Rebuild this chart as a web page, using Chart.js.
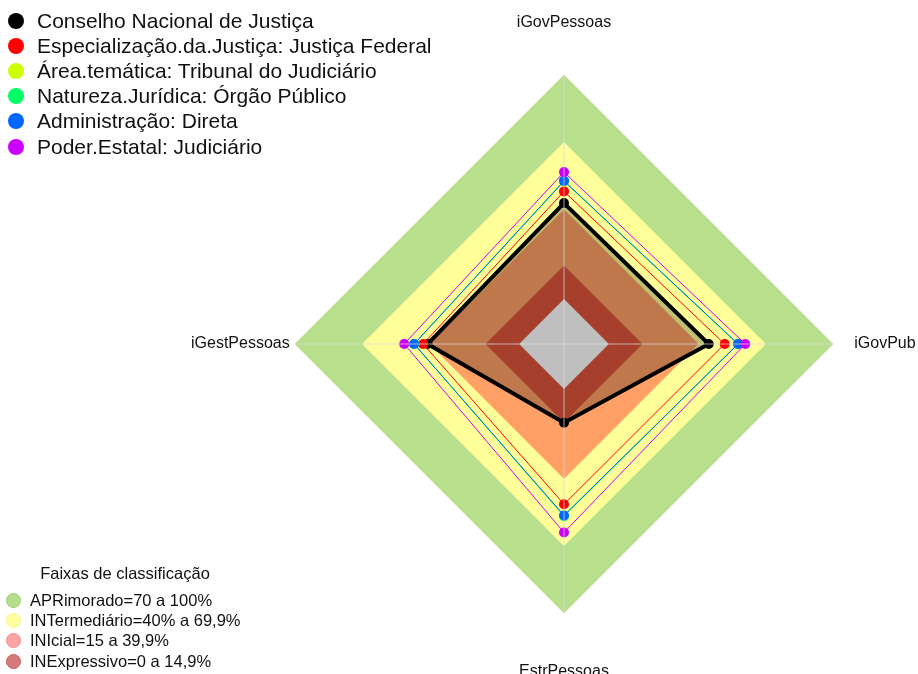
<!DOCTYPE html>
<html>
<head>
<meta charset="utf-8">
<script src="https://cdn.jsdelivr.net/npm/chart.js@4.4.1/dist/chart.umd.min.js"></script>
<style>
  html, body { margin: 0; padding: 0; overflow: hidden; background: #fff; }
  #wrap { position: relative; width: 940px; height: 700px; }
  .leg1 { position: absolute; left: 8px; top: 8px; font: 21px 'Liberation Sans', Arial, sans-serif; color: #111; }
  .leg1 .row { height: 25.2px; display: flex; align-items: center; white-space: nowrap; }
  .leg1 .dot { width: 16px; height: 16px; border-radius: 50%; margin-right: 13px; flex: none; }
  .leg2 { position: absolute; left: 0; top: 563px; font: 16.5px 'Liberation Sans', Arial, sans-serif; color: #111; }
  .leg2 .title { width: 250px; text-align: center; height: 20px; line-height: 20px; margin-bottom: 7px; }
  .leg2 .row { height: 20.3px; display: flex; align-items: center; white-space: nowrap; }
  .leg2 .dot { width: 15px; height: 15px; border-radius: 50%; margin-left: 5.5px; margin-right: 9.5px; flex: none; box-sizing: border-box; }
</style>
</head>
<body>
<div id="wrap">
  <canvas id="radar"></canvas>
  <div class="leg1" id="leg1"></div>
  <div class="leg2" id="leg2"><div class="title">Faixas de classificação</div></div>
</div>
<script>
const axisLabels = ['iGovPessoas', 'iGovPub', 'EstrPessoas', 'iGestPessoas'];

const seriesNames = [
    'Conselho Nacional de Justiça',
    'Especialização.da.Justiça: Justiça Federal',
    'Área.temática: Tribunal do Judiciário',
    'Natureza.Jurídica: Órgão Público',
    'Administração: Direta',
    'Poder.Estatal: Judiciário',
];
const seriesColors = ['#000000', '#ff0000', '#ccff00', '#00ff66', '#0066ff', '#cc00ff'];

// iGovPessoas, iGovPub, EstrPessoas, iGestPessoas
const conselho       = [42.8, 44.5, 15.1, 40.8];
const especializacao = [48.0, 51.6, 51.4, 42.8];
const areaTematica   = [52.4, 57.4, 56.3, 46.7];
const natureza       = [52.6, 57.5, 56.7, 46.7];
const administracao  = [52.7, 57.6, 56.4, 46.8];
const poder          = [56.6, 60.8, 64.0, 51.2];
const seriesValues = [conselho, especializacao, areaTematica, natureza, administracao, poder];

const bandNames = [
    'APRimorado=70 a 100%',
    'INTermediário=40% a 69,9%',
    'INIcial=15 a 39,9%',
    'INExpressivo=0 a 14,9%',
];
const bandTops = [100, 70, 40, 15];
const bandColors = ['rgb(184,224,140)', 'rgb(255,255,153)', 'rgb(255,161,102)', 'rgb(166,63,43)'];
const bandLegendColors = ['rgb(180,222,138)', 'rgb(255,255,160)', 'rgb(255,164,164)', 'rgb(212,122,122)'];
const bandLegendBorders = ['rgb(160,205,115)', 'rgb(245,245,140)', 'rgb(245,140,140)', 'rgb(195,100,100)'];
const belowZero = 0; // grey core, below the 0% line

const datasets = [];

// bands, outermost first
bandTops.forEach((top, i) => {
    datasets.push({
        label: bandNames[i],
        data: axisLabels.map(() => top),
        backgroundColor: bandColors[i],
        borderWidth: 0,
        pointRadius: 0,
        fill: 'start',
        order: 100 - i,
    });
});
// translucent fill of the first series, sits between the bands
datasets[3].order = 96;
datasets.push({
    label: 'fill',
    data: conselho,
    backgroundColor: 'rgba(0,0,0,0.25)',
    borderWidth: 0,
    pointRadius: 0,
    fill: 'start',
    order: 97,
});
datasets.push({
    label: 'core',
    data: axisLabels.map(() => belowZero),
    backgroundColor: 'rgb(191,191,191)',
    borderWidth: 0,
    pointRadius: 0,
    fill: 'start',
    order: 95,
});

seriesValues.forEach((vals, i) => {
    datasets.push({
        label: seriesNames[i],
        data: vals,
        borderColor: seriesColors[i],
        backgroundColor: seriesColors[i],
        pointBackgroundColor: seriesColors[i],
        pointBorderWidth: 0,
        pointRadius: 5,
        borderWidth: i === 0 ? 4 : 1,
        fill: false,
        order: 10 - i,
    });
});

const config_radar = {
    type: 'radar',
    data: { labels: axisLabels, datasets: datasets },
    options: {
        responsive: true,
        maintainAspectRatio: false,
        animation: false,
        events: [],
        layout: { padding: { left: 180, right: 13, top: 8, bottom: 13 } },
        elements: { line: { tension: 0 } },
        plugins: {
            legend: { display: false },
            tooltip: { enabled: false },
        },
        scales: {
            r: {
                min: -20,
                max: 100,
                ticks: { display: false },
                grid: { display: false, z: 1 },
                angleLines: { display: true, color: 'rgba(215,215,215,0.75)', lineWidth: 1 },
                pointLabels: {
                    color: '#111',
                    font: { family: "'Liberation Sans', Arial, sans-serif", size: 16 },
                    padding: (ctx) => [43, 21, 49, 5][ctx.index],
                },
            },
        },
    },
};

const myRadar = new Chart(document.getElementById('radar'), config_radar);

// legends
const leg1 = document.getElementById('leg1');
seriesNames.forEach((name, i) => {
    const row = document.createElement('div');
    row.className = 'row';
    row.innerHTML = '<span class="dot" style="background:' + seriesColors[i] + '"></span><span>' + name + '</span>';
    leg1.appendChild(row);
});
const leg2 = document.getElementById('leg2');
bandNames.forEach((name, i) => {
    const row = document.createElement('div');
    row.className = 'row';
    row.innerHTML = '<span class="dot" style="background:' + bandLegendColors[i] + ';border:1px solid ' + bandLegendBorders[i] + '"></span><span>' + name + '</span>';
    leg2.appendChild(row);
});
</script>
</body>
</html>
